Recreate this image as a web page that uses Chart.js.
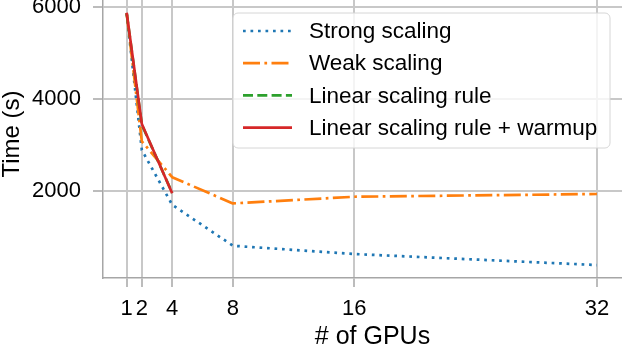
<!DOCTYPE html>
<html><head><meta charset="utf-8">
<script src="https://cdn.jsdelivr.net/npm/chart.js@4/dist/chart.umd.min.js"></script>
<style>
html,body{margin:0;padding:0;overflow:hidden;background:#fff;width:622px;height:346px;position:relative}
#wrap{position:absolute;left:0;top:-10px;width:642px;height:356px}
</style>
</head><body>
<div id="wrap"><canvas id="c" width="642" height="356"></canvas></div>
<script>
// ---- data ----
const gpus = [1, 2, 4, 8, 16, 32];
const gpusShort = [1, 2, 4];
const strongScaling = [5860, 2890, 1700, 810, 630, 390];
const weakScaling = [5860, 3080, 2300, 1730, 1875, 1935];
const linearRule = [5860, 3440, 1960];
const linearRuleWarmup = [5875, 3455, 1950];
const seriesLabels = ['Strong scaling', 'Weak scaling', 'Linear scaling rule', 'Linear scaling rule + warmup'];
const xTicks = [1, 2, 4, 8, 16, 32];
const yTicks = [2000, 4000, 6000];
const xTitle = '# of GPUs';
const yTitle = 'Time (s)';

const pts = (xs, ys) => xs.map((x, i) => ({x: x, y: ys[i]}));
const FONT = "'Liberation Sans', Arial, Helvetica, sans-serif";
const GRID = '#c8c8c8';
const SPINE = '#a6a6a6';

const legendPlugin = {
  id: 'mplLegend',
  afterDraw(chart) {
    const ctx = chart.ctx;
    const bx = 233, by = 23, bw = 377, bh = 135, r = 5;
    ctx.save();
    ctx.beginPath();
    ctx.moveTo(bx + r, by);
    ctx.arcTo(bx + bw, by, bx + bw, by + bh, r);
    ctx.arcTo(bx + bw, by + bh, bx, by + bh, r);
    ctx.arcTo(bx, by + bh, bx, by, r);
    ctx.arcTo(bx, by, bx + bw, by, r);
    ctx.closePath();
    ctx.fillStyle = 'rgba(255,255,255,0.8)';
    ctx.fill();
    ctx.strokeStyle = '#d6d6d6';
    ctx.lineWidth = 1;
    ctx.stroke();
    chart.data.datasets.forEach((ds, i) => {
      const y = by + 18 + i * 32.2;
      ctx.beginPath();
      ctx.strokeStyle = ds.borderColor;
      ctx.lineWidth = ds.borderWidth;
      ctx.lineCap = 'butt';
      ctx.setLineDash(ds.borderDash || []);
      ctx.moveTo(243, y);
      ctx.lineTo(292, y);
      ctx.stroke();
      ctx.setLineDash([]);
      ctx.fillStyle = '#000';
      ctx.font = '22.5px ' + FONT;
      ctx.textBaseline = 'middle';
      ctx.textAlign = 'left';
      ctx.fillText(ds.label, 309, y + 1);
    });
    ctx.restore();
  }
};

const lw = 2.7;
new Chart(document.getElementById('c'), {
  type: 'line',
  data: {
    datasets: [
      {label: seriesLabels[0], data: pts(gpus, strongScaling), borderColor: '#1f77b4', borderWidth: lw, borderDash: [2.7, 4.8], order: 3},
      {label: seriesLabels[1], data: pts(gpus, weakScaling), borderColor: '#ff7f0e', borderWidth: lw, borderDash: [17, 4.4, 2.7, 4.4], order: 2},
      {label: seriesLabels[2], data: pts(gpusShort, linearRule), borderColor: '#2ca02c', borderWidth: lw, borderDash: [10, 4.3], order: 1},
      {label: seriesLabels[3], data: pts(gpusShort, linearRuleWarmup), borderColor: '#d62728', borderWidth: lw, borderDash: [], order: 0}
    ]
  },
  options: {
    responsive: false,
    animation: false,
    devicePixelRatio: 1,
    layout: {padding: 0},
    elements: {point: {radius: 0}, line: {tension: 0, fill: false, borderCapStyle: 'butt', borderJoinStyle: 'round'}},
    plugins: {legend: {display: false}, tooltip: {enabled: false}},
    scales: {
      x: {
        type: 'linear', min: -0.56, max: 34.97,
        afterBuildTicks: (s) => { s.ticks = xTicks.map(v => ({value: v})); },
        afterFit: (s) => { s.height = 68; s.paddingLeft = 0; s.paddingRight = 0; },
        grid: {color: GRID, lineWidth: 2, drawTicks: true, tickLength: 9, tickColor: SPINE, tickWidth: 1.5},
        border: {display: true, color: SPINE, width: 1.5},
        ticks: {color: '#000', font: {family: FONT, size: 22}, padding: 9, maxRotation: 0, autoSkip: false,
                callback: (v) => String(v)},
        title: {display: true, text: xTitle, color: '#000', font: {family: FONT, size: 25}, padding: {top: 0, bottom: -6}}
      },
      y: {
        type: 'linear', min: 108.7, max: 6369.6,
        afterBuildTicks: (s) => { s.ticks = yTicks.map(v => ({value: v})); },
        afterFit: (s) => { s.width = 103; s.paddingTop = 0; s.paddingBottom = 0; },
        grid: {color: GRID, lineWidth: 2, drawTicks: true, tickLength: 10, tickColor: SPINE, tickWidth: 1.5},
        border: {display: true, color: SPINE, width: 1.5},
        ticks: {color: '#000', font: {family: FONT, size: 22}, padding: 12, callback: (v) => String(v)},
        title: {display: true, text: yTitle, color: '#000', font: {family: FONT, size: 24}, padding: {top: -2, bottom: 0}}
      }
    }
  },
  plugins: [legendPlugin]
});
</script>
</body></html>
